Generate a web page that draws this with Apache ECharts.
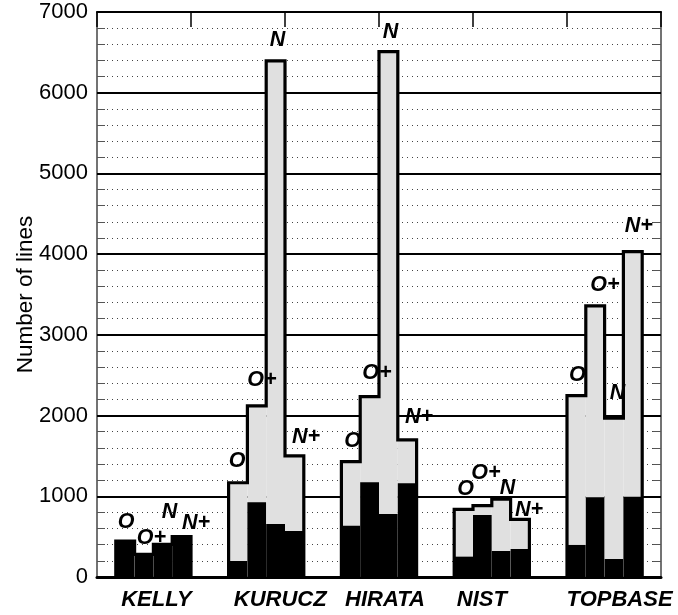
<!DOCTYPE html>
<html><head><meta charset="utf-8">
<script src="https://cdn.jsdelivr.net/npm/echarts@6/dist/echarts.min.js"></script>
<style>html,body{margin:0;padding:0;background:#fff}#c{width:678px;height:615px}</style>
</head><body><div id="c"></div>
<script>
// ---- data ----
const groups = ['KELLY', 'KURUCZ', 'HIRATA', 'NIST', 'TOPBASE'];
const ions = ['O', 'O+', 'N', 'N+'];
// total number of lines (grey + black), per group, per ion
const totalKELLY   = [446, 281, 405, 500];
const totalKURUCZ  = [1168, 2120, 6395, 1500];
const totalHIRATA  = [1430, 2235, 6510, 1698];
const totalNIST    = [839, 884, 963, 715];
const totalTOPBASE = [2247, 3358, 1967, 4031];
// black part
const blackKELLY   = [446, 281, 405, 500];
const blackKURUCZ  = [198, 925, 657, 570];
const blackHIRATA  = [636, 1173, 781, 1161];
const blackNIST    = [252, 768, 322, 347];
const blackTOPBASE = [397, 988, 223, 995];
const yTickValues = [0, 1000, 2000, 3000, 4000, 5000, 6000, 7000];

const totals = [totalKELLY, totalKURUCZ, totalHIRATA, totalNIST, totalTOPBASE];
const blacks = [blackKELLY, blackKURUCZ, blackHIRATA, blackNIST, blackTOPBASE];

// ---- layout (positions / styles) ----
const FIRST = 1, STEP = 6;
const ionLabelOffsets = [
  [[1, -18.5], [7.5, -16], [6.7, -32], [14.4, -14]],
  [[-1, -22], [5, -26], [2, -20.5], [11.6, -19]],
  [[1.7, -21], [7.4, -24], [2, -19], [11.8, -22.5]],
  [[2, -20], [3.6, -33], [6.3, -11], [9, -9]],
  [[1, -21], [9.8, -21], [3.5, -25], [6, -26]]
];
const groupLabelDx = [3, 14, 6, -10, 15];
const FONT = '"Liberation Sans", Arial, Helvetica, sans-serif';

const chart = echarts.init(document.getElementById('c'));

function renderGroup(params, api) {
  const g = api.value(0);
  const start = FIRST + g * STEP;
  const tot = totals[g], blk = blacks[g];
  const children = [];
  for (let j = 0; j < ions.length; j++) {
    const p0 = api.coord([start + j, tot[j]]);
    const p1 = api.coord([start + j + 1, 0]);
    children.push({type: 'rect', shape: {x: p0[0], y: p0[1], width: p1[0] - p0[0], height: p1[1] - p0[1]},
      style: {fill: '#e0e0e0'}});
    const b0 = api.coord([start + j, blk[j]]);
    children.push({type: 'rect', shape: {x: b0[0], y: b0[1], width: p1[0] - b0[0], height: p1[1] - b0[1]},
      style: {fill: '#000'}});
  }
  const pts = [api.coord([start, 0])];
  for (let j = 0; j < ions.length; j++) {
    pts.push(api.coord([start + j, tot[j]]));
    pts.push(api.coord([start + j + 1, tot[j]]));
  }
  pts.push(api.coord([start + ions.length, 0]));
  children.push({type: 'polyline', shape: {points: pts},
    style: {stroke: '#000', lineWidth: 3.2, fill: null, lineJoin: 'miter'}});
  for (let j = 0; j < ions.length; j++) {
    const c = api.coord([start + j + 0.5, tot[j]]);
    const off = ionLabelOffsets[g][j];
    children.push({type: 'text', x: c[0] + off[0], y: c[1] + off[1],
      style: {text: ions[j], fontFamily: FONT, fontSize: 21.5, fontWeight: 'bold', fontStyle: 'italic',
        fill: '#000', align: 'center', verticalAlign: 'middle'}});
  }
  const gc = api.coord([start + 2, 0]);
  children.push({type: 'text', x: gc[0] + groupLabelDx[g], y: gc[1] + 23,
    style: {text: groups[g], fontFamily: FONT, fontSize: 22, fontWeight: 'bold', fontStyle: 'italic',
      fill: '#000', align: 'center', verticalAlign: 'middle'}});
  return {type: 'group', children};
}

const yCommon = {type: 'value', min: yTickValues[0], max: yTickValues[yTickValues.length - 1], interval: 1000};

chart.setOption({
  animation: false,
  grid: {left: 97, right: 17, top: 12, bottom: 38},
  xAxis: [
    {type: 'value', min: 0, max: 30, interval: 5, position: 'bottom',
      axisLine: {show: true, onZero: false, lineStyle: {color: '#000', width: 3}},
      axisTick: {show: false}, axisLabel: {show: false}, splitLine: {show: false}},
    {type: 'value', min: 0, max: 30, interval: 5, position: 'top',
      axisLine: {show: true, onZero: false, lineStyle: {color: '#000', width: 2}},
      axisTick: {show: true, inside: true, length: 15, lineStyle: {color: '#000', width: 1.5}},
      axisLabel: {show: false}, splitLine: {show: false}}
  ],
  yAxis: [
    Object.assign({}, yCommon, {position: 'left',
      name: 'Number of lines', nameLocation: 'middle', nameGap: 60, nameMoveOverlap: false,
      nameTextStyle: {fontFamily: FONT, fontSize: 22.5, color: '#000'},
      axisLine: {show: true, onZero: false, lineStyle: {color: '#444', width: 1.5}},
      axisTick: {show: true, inside: true, length: 18, lineStyle: {color: '#000', width: 2}},
      minorTick: {show: true, splitNumber: 5, length: 8, lineStyle: {color: '#555', width: 1}},
      axisLabel: {fontFamily: FONT, fontSize: 22, color: '#000', margin: 9,
        formatter: v => String(v)},
      splitLine: {show: true, lineStyle: {color: '#000', width: 2}},
      minorSplitLine: {show: true, lineStyle: {color: '#444', width: 1, type: [1, 4]}}}),
    Object.assign({}, yCommon, {position: 'right',
      axisLine: {show: true, onZero: false, lineStyle: {color: '#444', width: 1.5}},
      axisTick: {show: true, inside: true, length: 18, lineStyle: {color: '#000', width: 2}},
      minorTick: {show: true, splitNumber: 5, length: 8, lineStyle: {color: '#555', width: 1}},
      axisLabel: {show: false}, splitLine: {show: false}})
  ],
  series: [{
    type: 'custom', xAxisIndex: 0, yAxisIndex: 0, clip: false,
    renderItem: renderGroup,
    data: groups.map((g, i) => [i])
  }]
});
</script>
</body></html>
